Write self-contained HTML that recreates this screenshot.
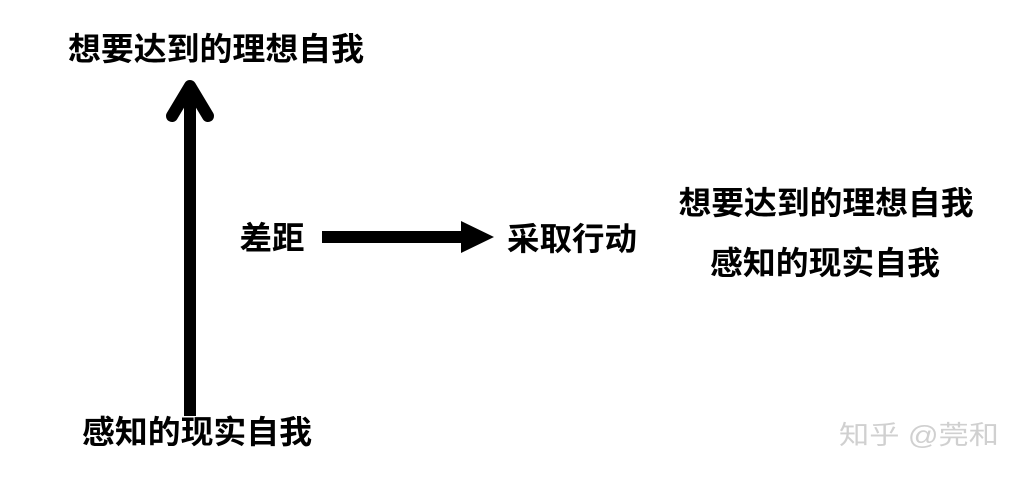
<!DOCTYPE html>
<html><head><meta charset="utf-8"><style>
html,body{margin:0;padding:0;background:#fff;}
svg{display:block;}
text{font-family:"Liberation Sans","Noto Sans CJK SC","WenQuanYi Zen Hei",sans-serif;font-weight:bold;fill:#000;}
</style></head><body>
<svg width="1027" height="480" viewBox="0 0 1027 480" xmlns="http://www.w3.org/2000/svg">
<rect width="1027" height="480" fill="#fff"/>
<text x="216" y="60" font-size="32" text-anchor="middle" textLength="296" lengthAdjust="spacingAndGlyphs">想要达到的理想自我</text>
<line x1="190" y1="416" x2="190" y2="88" stroke="#000" stroke-width="12"/>
<polyline points="172,116 190,86 208,116" fill="none" stroke="#000" stroke-width="12" stroke-linecap="round" stroke-linejoin="round"/>
<text x="272" y="249" font-size="32" text-anchor="middle" textLength="65" lengthAdjust="spacingAndGlyphs">差距</text>
<rect x="322" y="231" width="142" height="12" fill="#000"/>
<polygon points="461,221 494,237 461,253" fill="#000"/>
<text x="572" y="250" font-size="32" text-anchor="middle" textLength="130" lengthAdjust="spacingAndGlyphs">采取行动</text>
<text x="826" y="214" font-size="32" text-anchor="middle" textLength="295" lengthAdjust="spacingAndGlyphs">想要达到的理想自我</text>
<text x="825" y="274" font-size="32" text-anchor="middle" textLength="230" lengthAdjust="spacingAndGlyphs">感知的现实自我</text>
<text x="197" y="443" font-size="32" text-anchor="middle" textLength="230" lengthAdjust="spacingAndGlyphs">感知的现实自我</text>
<text x="919" y="444" font-size="26" text-anchor="middle" textLength="160" lengthAdjust="spacingAndGlyphs" style="font-weight:normal;fill:#d0d0d0;">知乎 @莞和</text>
</svg>
</body></html>
